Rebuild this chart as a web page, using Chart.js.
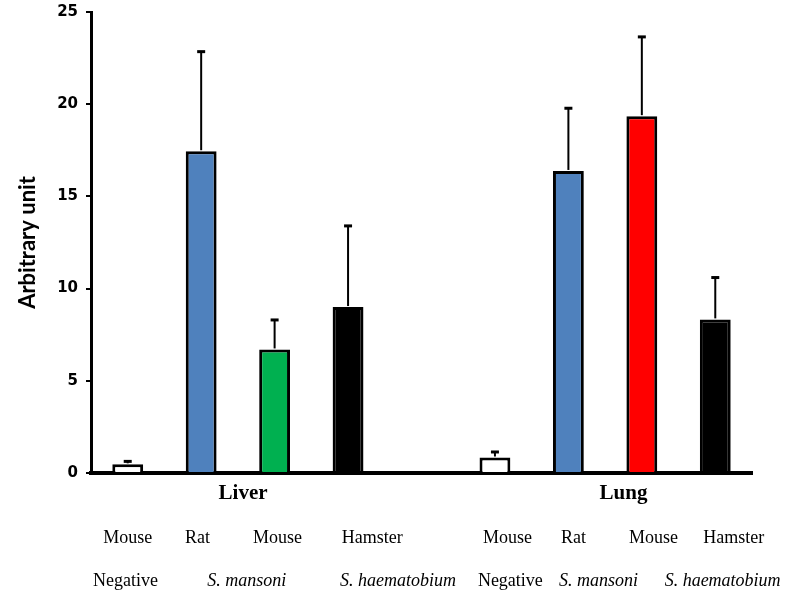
<!DOCTYPE html>
<html>
<head>
<meta charset="utf-8">
<script src="https://cdn.jsdelivr.net/npm/chart.js@4"></script>
<style>
  html, body { margin:0; padding:0; background:#fff; }
  #wrap { width:787px; height:592px; position:relative; }
</style>
</head>
<body>
<div id="wrap"><canvas id="chart"></canvas></div>
<script>
// data
const slots = ["Liver Mouse Negative","Liver Rat S. mansoni","Liver Mouse S. mansoni","Liver Hamster S. haematobium","",
  "Lung Mouse Negative","Lung Rat S. mansoni","Lung Mouse S. mansoni","Lung Hamster S. haematobium"];
const values = [0.47, 17.45, 6.7, 9.0, null, 0.84, 16.38, 19.35, 8.33];
const errUpper = [0.16, 5.4, 1.6, 4.4, null, 0.3, 3.4, 4.3, 2.27];
const barColors = ["#ffffff","#4f81bd","#00b050","#000000",null,"#ffffff","#4f81bd","#ff0000","#000000"];
const yTicks = [0, 5, 10, 15, 20, 25];

const organs = ["Liver", "Lung"];
const hosts = ["Mouse","Rat","Mouse","Hamster","Mouse","Rat","Mouse","Hamster"];
const groups = ["Negative","S. mansoni","S. haematobium","Negative","S. mansoni","S. haematobium"];

// where the text rows sit, in category units
const organPos = [1.57, 6.75];
const hostPos = [0, 0.95, 2.04, 3.33, 5.17, 6.07, 7.16, 8.25];
const groupPos = [-0.03, 1.62, 3.68, 5.21, 6.41, 8.10];

// error bars (upper only)
const errorBars = {
  id:"errorBars",
  afterDatasetsDraw(chart){
    const {ctx, scales:{x, y}} = chart;
    ctx.save();
    ctx.strokeStyle = "#000";
    values.forEach((v, i) => {
      if(v === null) return;
      const px = x.getPixelForValue(i);
      const top = y.getPixelForValue(v + errUpper[i]);
      ctx.lineWidth = 2;
      ctx.beginPath();
      ctx.moveTo(px, y.getPixelForValue(v) - 1);
      ctx.lineTo(px, top);
      ctx.stroke();
      ctx.lineWidth = 3;
      ctx.beginPath();
      ctx.moveTo(px - 4, top);
      ctx.lineTo(px + 4, top);
      ctx.stroke();
    });
    ctx.restore();
  }
};

// category text under the axis
const bottomText = {
  id:"bottomText",
  afterDraw(chart){
    const {ctx, scales:{x}} = chart;
    const base = x.top;
    ctx.save();
    ctx.fillStyle = "#000";
    ctx.textAlign = "center";
    ctx.textBaseline = "middle";
    ctx.font = "bold 21px 'Liberation Serif'";
    organs.forEach((t, i) => ctx.fillText(t, x.getPixelForValue(organPos[i]), base + 21));
    ctx.font = "18px 'Liberation Serif'";
    hosts.forEach((t, i) => ctx.fillText(t, x.getPixelForValue(hostPos[i]), base + 65));
    groups.forEach((t, i) => {
      ctx.font = t === "Negative" ? "18px 'Liberation Serif'" : "italic 18px 'Liberation Serif'";
      ctx.fillText(t, x.getPixelForValue(groupPos[i]), base + 108);
    });
    ctx.restore();
  }
};

new Chart(document.getElementById("chart"), {
  type:"bar",
  data:{
    labels:slots,
    datasets:[{
      data:values,
      backgroundColor:barColors,
      borderColor:"#000",
      borderWidth:3,
      borderSkipped:"bottom",
      barPercentage:0.42,
      categoryPercentage:1
    }]
  },
  options:{
    responsive:true,
    maintainAspectRatio:false,
    animation:false,
    layout:{ padding:{ top:12, bottom:119, right:35, left:0 } },
    plugins:{ legend:{ display:false }, tooltip:{ enabled:false } },
    scales:{
      x:{
        ticks:{ display:false },
        grid:{ display:false, drawTicks:false },
        border:{ display:true, color:"#000", width:4 }
      },
      y:{
        min:0, max:25,
        afterFit(scale){ scale.width = 91; scale.paddingTop = 0; scale.paddingBottom = 0; },
        afterBuildTicks(scale){ scale.ticks = yTicks.map(v => ({ value:v })); },
        ticks:{ color:"#000", padding:8, font:{ family:"DejaVu Sans", weight:"bold", size:15 } },
        grid:{ drawOnChartArea:false, drawTicks:true, tickLength:5, color:"#000", lineWidth:2 },
        border:{ display:true, color:"#000", width:3 },
        title:{ display:true, text:"Arbitrary unit", color:"#000",
          padding:{ top:15, bottom:0 }, font:{ family:"Lato", weight:"bold", size:22 } }
      }
    }
  },
  plugins:[errorBars, bottomText]
});
</script>
</body>
</html>
